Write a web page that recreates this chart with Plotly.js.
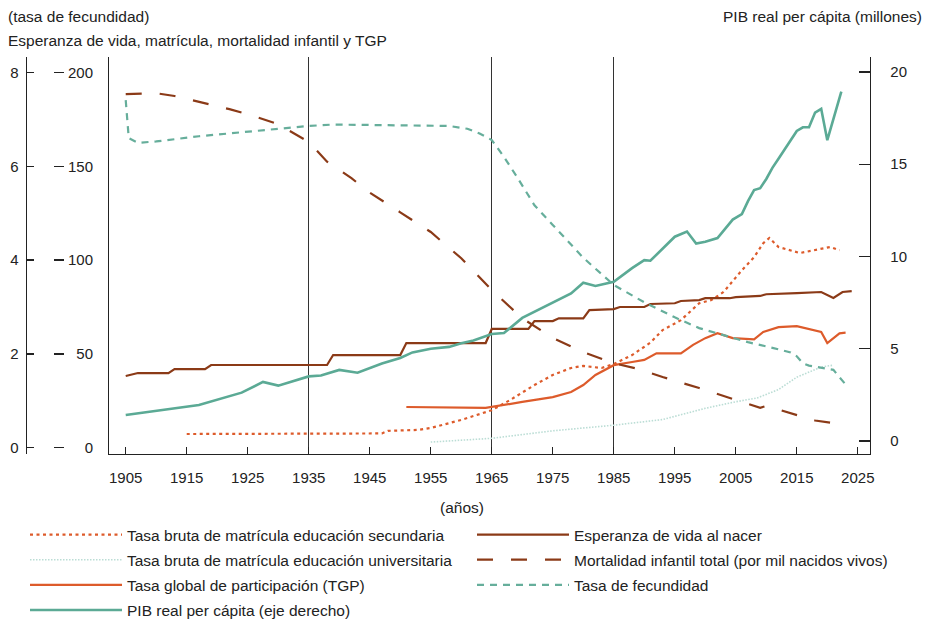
<!DOCTYPE html>
<html><head><meta charset="utf-8">
<script src="https://cdn.plot.ly/plotly-3.0.1.min.js"></script>
<style>html,body{margin:0;padding:0;background:#fff}#chart{width:935px;height:619px}</style>
</head><body><div id="chart"></div>
<script>
// ---------- data ----------
const xTicks = [1905,1915,1925,1935,1945,1955,1965,1975,1985,1995,2005,2015,2025];
const periodLines = [1935,1965,1985];
const leftTicks200 = [0,50,100,150,200];
const leftTicks8 = [0,2,4,6,8];
const rightTicks = [0,5,10,15,20];

const secYears = [1915,1945,1947,1948,1953,1955,1960,1965,1968,1972,1975,1978,1980,1983,1985,1988,1991,1993,1996,1999,2001,2003,2006,2008,2009.5,2010.5,2012,2015.5,2018,2020.5,2022];
const secVals  = [7.3,7.3,7.6,9,9.5,10.5,14.8,20,25.4,33.4,38.8,42.5,43.6,42.5,44.6,49.4,56,62.7,68,77,78.7,83,94.6,101.6,109,111.8,107,103.8,105.5,107,105.3];

const uniYears = [1955,1965,1975,1980,1985,1993,2000,2005,2008.5,2012,2015,2019,2021];
const uniVals  = [3,5,9,10.5,12,15,21,24.5,26.5,31,37.6,43,44];

const tgpYears = [1951,1964,1970,1975,1978,1980,1982,1985,1988,1990,1992,1996,1998,2000,2002,2004.5,2008,2009.5,2012,2015,2019,2020,2022,2023];
const tgpVals  = [21.7,21.2,24.4,27,29.7,33.4,38.8,44,45.7,46.8,50.3,50.3,54.8,58.4,61,58.4,57.8,61.7,64.3,64.8,61.7,55.8,61,61.3];

const pibYears = [1905,1917,1924,1927.5,1930,1933,1935,1937,1940,1943,1945,1947,1950,1952,1955,1958,1960,1962,1965,1967,1970,1975,1978,1980,1982,1985,1988,1990,1991,1995,1997,1998.5,2000,2002,2004.5,2006,2007,2008,2009,2010,2011,2012,2013,2014,2015,2016,2017,2018,2019,2020,2022.3];
const pibVals  = [1.41,1.95,2.62,3.2,3.0,3.3,3.5,3.55,3.85,3.7,3.95,4.2,4.5,4.8,5.0,5.1,5.3,5.45,5.8,5.85,6.67,7.5,8.0,8.58,8.4,8.63,9.37,9.8,9.77,11.07,11.35,10.7,10.8,11.0,12.0,12.3,13.0,13.6,13.7,14.2,14.8,15.3,15.8,16.3,16.8,17.0,17.0,17.8,18.0,16.3,18.93];

const espYears = [1905,1907,1912,1913,1918,1919,1938,1939,1950,1951,1964,1965,1971,1972,1975,1976,1980,1981,1985,1986,1990,1991,1995,1996,1999,2000,2004,2005,2009,2010,2015,2019,2021,2022.5,2024];
const espVals  = [38.2,39.8,39.8,41.9,41.9,44.1,44.1,49.4,49.4,55.8,55.8,63.3,63.3,67.5,67.5,69,69,73.4,73.9,75,75,76.6,77,78.2,78.7,79.7,79.7,80.3,80.9,81.8,82.4,83,79.8,83,83.5];

const morYears = [1905,1910,1913,1918,1922,1926,1930,1935,1938,1942,1945,1950,1955,1960,1965,1970,1975,1980,1985,1989,1993,1999,2004,2009,2010,2015,2018,2022];
const morVals  = [188.5,189,187.5,183.7,180.5,176.8,172.5,163,152.5,143.7,136,125.5,115,101,84,69,58.5,51,45,42,37.7,31.8,26.6,21.3,22.3,17.5,14.5,12.6];

const fecYears = [1905,1905.5,1907,1910,1917,1928,1935,1939,1950,1958,1961,1963,1965,1967,1969,1972,1975,1980,1985,1990,1995,1999,2003,2007,2011,2014,2015,2016,2017,2019,2021,2022,2023];
const fecVals  = [7.41,6.6,6.5,6.53,6.64,6.77,6.86,6.89,6.88,6.86,6.8,6.7,6.56,6.2,5.8,5.17,4.75,4.05,3.47,3.1,2.78,2.55,2.4,2.25,2.13,2.03,1.95,1.8,1.75,1.70,1.66,1.5,1.35];

const names = {
  sec: 'Tasa bruta de matrícula educación secundaria',
  uni: 'Tasa bruta de matrícula educación universitaria',
  tgp: 'Tasa global de participación (TGP)',
  pib: 'PIB real per cápita (eje derecho)',
  esp: 'Esperanza de vida al nacer',
  mor: 'Mortalidad infantil total (por mil nacidos vivos)',
  fec: 'Tasa de fecundidad'
};

// ---------- styling ----------
const W = 935, H = 619;
const px = v => v / W, py = v => 1 - v / H;
const FONT = 'Liberation Sans, Arial, Helvetica, sans-serif';
const INK = '#222';
const ORANGE = '#DD5B2B', BROWN = '#8B3A17', TEAL = '#5BAA95', TEAL2 = '#66AE9B', TEALFAINT = '#BBDDD5';
const range200 = [-3.36, 208.3];
const range8 = [-0.134, 8.33];
const rangeR = [-0.705, 20.81];
const xRange = [1902.26, 2027.0];
const TXT = 15.5, TICK = 15;

function tr(x, y, name, axis, line, legend, rank) {
  return {type:'scatter', mode:'lines', x, y, name, yaxis:axis, line,
          legend, legendgroup:name, legendrank:rank, hoverinfo:'skip'};
}
function axisHolder(xa, ya) {
  return {type:'scatter', mode:'lines', x:[], y:[], xaxis:xa, yaxis:ya, showlegend:false, hoverinfo:'skip'};
}

const data = [
  axisHolder('x2','y'), axisHolder('x','y4'), axisHolder('x','y5'),
  tr(uniYears, uniVals, names.uni, 'y', {color:TEALFAINT, width:1.6, dash:'1.5px,1.5px'}, 'legend', 2),
  tr(secYears, secVals, names.sec, 'y', {color:ORANGE, width:2.2, dash:'3px,3.5px'}, 'legend', 1),
  tr(tgpYears, tgpVals, names.tgp, 'y', {color:ORANGE, width:2.2}, 'legend', 3),
  tr(espYears, espVals, names.esp, 'y', {color:BROWN, width:2.2}, 'legend2', 1),
  tr(morYears, morVals, names.mor, 'y', {color:BROWN, width:2.2, dash:'16px,18px'}, 'legend2', 2),
  tr(fecYears, fecVals, names.fec, 'y3', {color:TEAL2, width:2.2, dash:'7px,6px'}, 'legend2', 3),
  tr(pibYears, pibVals, names.pib, 'y2', {color:TEAL, width:2.6}, 'legend', 4)
];

const tickfont = {family:FONT, size:TICK, color:INK};
const base = {showgrid:false, zeroline:false, linecolor:INK, tickcolor:INK, tickwidth:1.3, linewidth:1.3, tickfont};
const legFont = {family:FONT, size:TXT, color:INK};

const layout = {
  width:W, height:H, margin:{l:0,r:0,t:0,b:0,autoexpand:false},
  paper_bgcolor:'#fff', plot_bgcolor:'rgba(0,0,0,0)',
  font:{family:FONT, size:TXT, color:INK},
  showlegend:true,
  xaxis: Object.assign({}, base, {domain:[px(109),px(870)], range:xRange, tickvals:xTicks, ticks:'inside', ticklen:7, showline:true, anchor:'y', ticklabelstandoff:10, automargin:false}),
  xaxis2: Object.assign({}, base, {overlaying:'x', anchor:'y', domain:[px(109),px(870)], range:xRange, tickvals:periodLines, showgrid:true, gridcolor:'#333', gridwidth:1.4, showticklabels:false, ticks:'', showline:false}),
  yaxis: Object.assign({}, base, {domain:[py(454),py(57)], range:range200, showline:true, ticks:'', showticklabels:false, anchor:'x'}),
  yaxis2: Object.assign({}, base, {overlaying:'y', side:'right', anchor:'x', range:rangeR, tickvals:rightTicks, ticks:'inside', ticklen:11, showline:true, ticklabelstandoff:16}),
  yaxis3: Object.assign({}, base, {overlaying:'y', side:'left', anchor:'free', position:px(25.7), range:range8, tickvals:leftTicks8, ticks:'inside', ticklen:7, showline:true, ticklabelstandoff:4}),
  yaxis4: Object.assign({}, base, {overlaying:'y', side:'right', anchor:'free', position:px(53), range:range200, tickvals:leftTicks200, ticks:'outside', ticklen:10, showticklabels:false, showline:false}),
  yaxis5: Object.assign({}, base, {overlaying:'y', side:'left', anchor:'free', position:px(93), range:range200, tickvals:leftTicks200, ticks:'', showticklabels:true, showline:false}),
  legend: {x:px(25), y:py(518), xanchor:'left', yanchor:'top', orientation:'v', itemwidth:92, traceorder:'grouped', tracegroupgap:2, font:legFont, bgcolor:'rgba(0,0,0,0)'},
  legend2: {x:px(472), y:py(518), xanchor:'left', yanchor:'top', orientation:'v', itemwidth:92, traceorder:'grouped', tracegroupgap:2, font:legFont, bgcolor:'rgba(0,0,0,0)'},
  annotations: [
    {text:'(tasa de fecundidad)', xref:'paper', yref:'paper', x:px(6), y:py(16), xanchor:'left', yanchor:'middle', showarrow:false, font:legFont},
    {text:'Esperanza de vida, matrícula, mortalidad infantil y TGP', xref:'paper', yref:'paper', x:px(6), y:py(40), xanchor:'left', yanchor:'middle', showarrow:false, font:legFont},
    {text:'PIB real per cápita (millones)', xref:'paper', yref:'paper', x:px(924), y:py(16), xanchor:'right', yanchor:'middle', showarrow:false, font:legFont},
    {text:'(años)', xref:'paper', yref:'paper', x:px(462), y:py(507), xanchor:'center', yanchor:'middle', showarrow:false, font:legFont}
  ]
};

Plotly.newPlot('chart', data, layout, {displayModeBar:false, staticPlot:true});
</script>
</body></html>
